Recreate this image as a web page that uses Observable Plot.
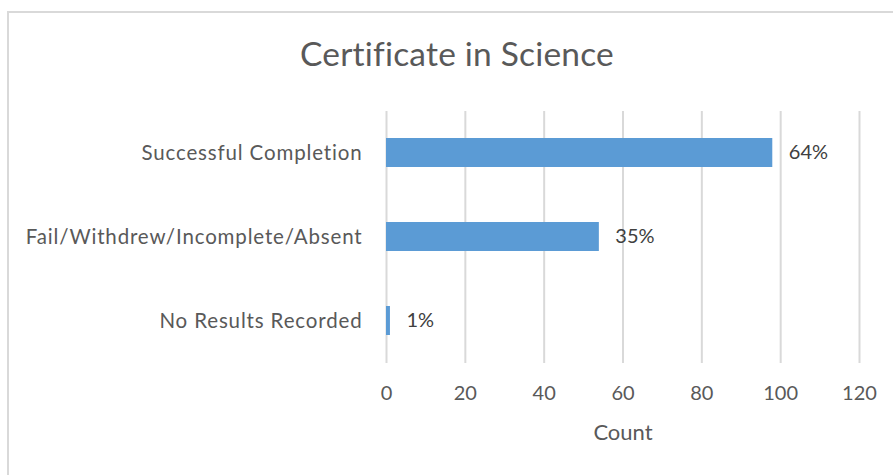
<!DOCTYPE html>
<html>
<head>
<meta charset="utf-8">
<script src="https://cdn.jsdelivr.net/npm/d3@7"></script>
<script src="https://cdn.jsdelivr.net/npm/@observablehq/plot@0.6"></script>
<style>
  body { margin: 0; background: #fff; font-family: Lato, sans-serif; }
  #wrap { position: relative; width: 893px; height: 475px; overflow: hidden; }
  #frame { position: absolute; left: 7px; top: 11px; width: 900px; height: 500px; border: 2px solid #d9d9d9; box-sizing: border-box; }
  #title { position: absolute; left: 7px; width: 900px; top: 33px; height: 40px; line-height: 40px; font-size: 33.5px; letter-spacing: 0.2px; color: #595959; text-align: center; font-family: Lato, sans-serif; }
  #chart { position: absolute; left: 0; top: 100px; }
  #chart [aria-label="y-axis tick label"] { letter-spacing: 0.85px; }
</style>
</head>
<body>
<div id="wrap">
  <div id="frame"></div>
  <div id="title">Certificate in Science</div>
  <div id="chart"></div>
</div>
<script>
const categories = ["Successful Completion", "Fail/Withdrew/Incomplete/Absent", "No Results Recorded"];
const counts = [98, 54, 1];
const percentLabels = ["64%", "35%", "1%"];
const xTicks = [0, 20, 40, 60, 80, 100, 120];

const data = categories.map((c, i) => ({category: c, count: counts[i], pct: percentLabels[i]}));

const chart = Plot.plot({
  width: 893,
  height: 375,
  marginLeft: 386,
  marginRight: 34,
  marginTop: 11,
  marginBottom: 112,
  style: { fontFamily: "Lato, sans-serif", fontSize: "20px", color: "#595959", background: "transparent" },
  x: { domain: [0, 120], ticks: xTicks },
  y: { domain: categories, paddingInner: 0.65, paddingOuter: 0.325 },
  marks: [
    Plot.gridX(xTicks, { stroke: "#d9d9d9", strokeOpacity: 1, strokeWidth: 2 }),
    Plot.barX(data, { x: "count", y: "category", fill: "#5b9bd5" }),
    Plot.text(data, { x: "count", y: "category", text: "pct", textAnchor: "start", dx: 16, fill: "#404040", fontSize: 20 }),
    Plot.axisX(xTicks, { tickSize: 0, tickPadding: 22, label: null, fill: "#595959", fontSize: 20 }),
    Plot.axisY({ tickSize: 0, tickPadding: 24, label: null, fill: "#595959", fontSize: 20.5 }),
    Plot.text(["Count"], { frameAnchor: "bottom", dy: 69, lineAnchor: "middle", fill: "#595959", fontSize: 22 })
  ]
});
document.getElementById("chart").appendChild(chart);
</script>
</body>
</html>
